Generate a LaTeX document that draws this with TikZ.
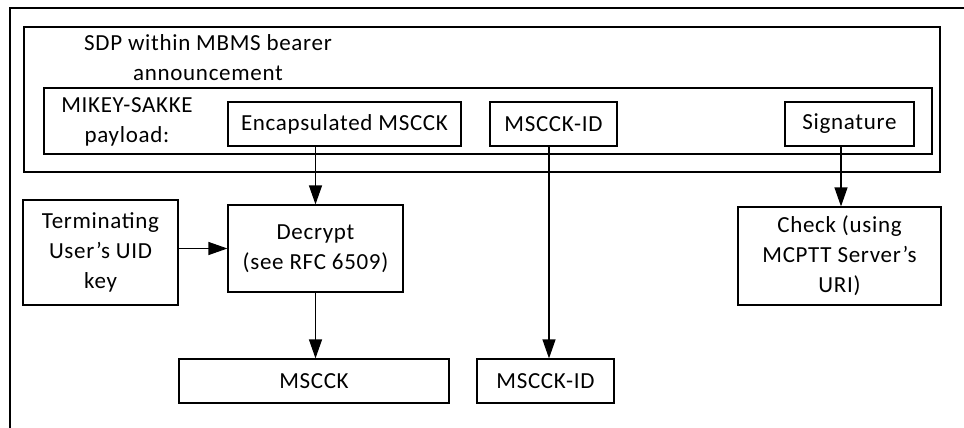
\documentclass[tikz,border=0pt]{standalone}
\usepackage{fontspec}
\setmainfont{Carlito}[LetterSpace=3]
\usetikzlibrary{arrows.meta}
\begin{document}
\begin{tikzpicture}[x=1pt,y=-1pt,
  line width=1.2pt,
  box/.style={draw, line width=1.2pt, align=center, inner sep=0pt},
  lbl/.style={align=center, inner sep=0pt},
  arr/.style={-{Triangle[length=19pt,width=13pt]}, line width=1.2pt},
  font=\fontsize{23}{30}\selectfont]
\useasboundingbox[fill=white] (0,0) rectangle (964,428);
% outer frame (cropped)
\coordinate (fbl) at (10,428);
\coordinate (ftl) at (10,8);
\coordinate (ftr) at (964,8);
\draw (fbl) -- (ftl) -- (ftr);
% SDP box
\node[box, minimum width=916pt, minimum height=145pt] (sdp) at (482,99.5) {};
\node[lbl] (sdpt) at (208,58) {SDP within MBMS bearer\\announcement};
% MIKEY box
\node[box, minimum width=888pt, minimum height=66pt] (mikey) at (488,121) {};
\node[lbl] (mikeyt) at (127,122) {MIKEY-SAKKE\\payload:};
\node[box, minimum width=233pt, minimum height=44pt] (enc) at (344.5,124) {Encapsulated MSCCK};
\node[box, minimum width=127pt, minimum height=44pt] (mid) at (553.5,124) {MSCCK-ID};
\node[box, minimum width=129pt, minimum height=44pt] (sig) at (849.5,124) {Signature};
% lower boxes
\node[box, minimum width=155pt, minimum height=105pt] (term) at (100.5,252.5) {Terminating\\User’s UID\\key};
\node[box, minimum width=175pt, minimum height=87pt] (dec) at (315.5,248.5) {Decrypt\\(see RFC 6509)};
\node[box, minimum width=203pt, minimum height=98pt] (chk) at (839.5,256) {Check (using\\MCPTT Server’s\\URI)};
\node[box, minimum width=270pt, minimum height=44pt] (msk) at (314,381) {MSCCK};
\node[box, minimum width=137pt, minimum height=44pt] (mid2) at (545.5,381) {MSCCK-ID};
% arrows
\draw[arr] (dec.north |- enc.south) -- (dec.north);
\draw[arr] (term.east |- dec.west) -- (dec.west);
\draw[arr] (dec.south) -- (dec.south |- msk.north);
\draw[arr] ([xshift=-4.5pt]mid.south) -- ([xshift=3.5pt]mid2.north);
\draw[arr] ([xshift=1.5pt]chk.north |- sig.south) -- ([xshift=1.5pt]chk.north);
\end{tikzpicture}
\end{document}
